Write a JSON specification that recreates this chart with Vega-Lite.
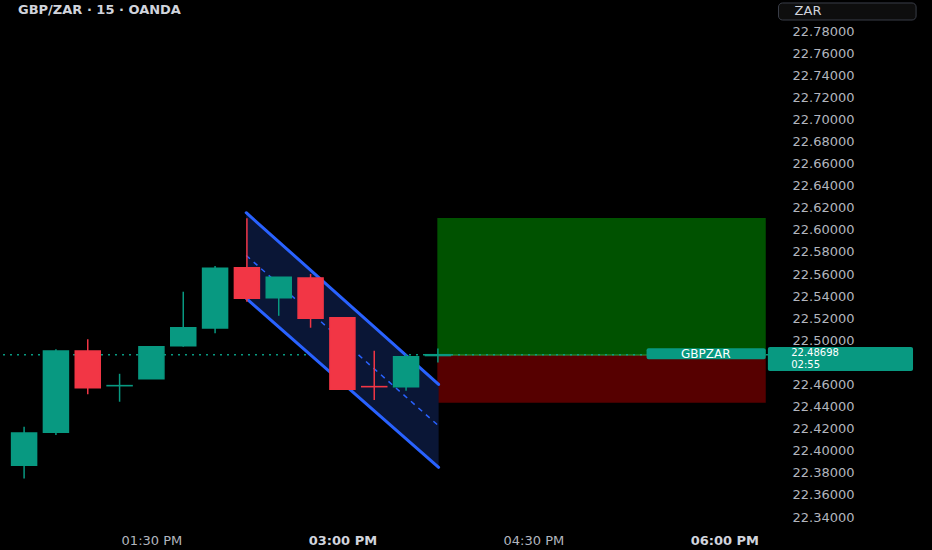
{
  "$schema": "https://vega.github.io/schema/vega-lite/v6.json",
  "description": "GBP/ZAR 15m candles with descending channel and long position box",
  "width": 775,
  "height": 525,
  "autosize": {"type": "none"},
  "padding": {"left": 0, "top": 0, "right": 157, "bottom": 25},
  "background": "#000000",
  "title": {
    "text": "GBP/ZAR · 15 · OANDA",
    "anchor": "start",
    "frame": "group",
    "offset": 0,
    "dx": 18,
    "dy": 17,
    "font": "DejaVu Sans",
    "fontSize": 13,
    "fontWeight": "bold",
    "color": "#d1d4dc"
  },
  "config": {
    "view": {"stroke": null},
    "axis": {"grid": false, "domain": false, "ticks": false, "labelOverlap": false}
  },
  "datasets": {
    "candles": [
      {"t": "2024-01-01T12:30:00", "open": 22.387, "high": 22.4217, "low": 22.375, "close": 22.416, "dir": "up"},
      {"t": "2024-01-01T12:45:00", "open": 22.4167, "high": 22.4918, "low": 22.4142, "close": 22.4903, "dir": "up"},
      {"t": "2024-01-01T13:00:00", "open": 22.4903, "high": 22.5009, "low": 22.4511, "close": 22.457, "dir": "down"},
      {"t": "2024-01-01T13:15:00", "open": 22.4589, "high": 22.4697, "low": 22.4444, "close": 22.459, "dir": "up"},
      {"t": "2024-01-01T13:30:00", "open": 22.4652, "high": 22.4945, "low": 22.465, "close": 22.4942, "dir": "up"},
      {"t": "2024-01-01T13:45:00", "open": 22.4951, "high": 22.544, "low": 22.4942, "close": 22.5114, "dir": "up"},
      {"t": "2024-01-01T14:00:00", "open": 22.5111, "high": 22.5672, "low": 22.5063, "close": 22.5652, "dir": "up"},
      {"t": "2024-01-01T14:15:00", "open": 22.5657, "high": 22.6104, "low": 22.5349, "close": 22.538, "dir": "down"},
      {"t": "2024-01-01T14:30:00", "open": 22.5385, "high": 22.5572, "low": 22.5222, "close": 22.557, "dir": "up"},
      {"t": "2024-01-01T14:45:00", "open": 22.5564, "high": 22.56, "low": 22.5114, "close": 22.5199, "dir": "down"},
      {"t": "2024-01-01T15:00:00", "open": 22.5204, "high": 22.5206, "low": 22.4554, "close": 22.4556, "dir": "down"},
      {"t": "2024-01-01T15:15:00", "open": 22.4581, "high": 22.4905, "low": 22.4459, "close": 22.458, "dir": "down"},
      {"t": "2024-01-01T15:30:00", "open": 22.458, "high": 22.4873, "low": 22.4543, "close": 22.4851, "dir": "up"},
      {"t": "2024-01-01T15:45:00", "open": 22.4862, "high": 22.4927, "low": 22.48, "close": 22.48698, "dir": "up"}
    ],
    "channel": [
      {"t": "2024-01-01T14:14:40", "upper": 22.6155, "mid": 22.5768, "lower": 22.538},
      {"t": "2024-01-01T15:45:20", "upper": 22.4601, "mid": 22.4226, "lower": 22.385}
    ],
    "position": [
      {"zone": "target", "t0": "2024-01-01T15:44:44", "t1": "2024-01-01T18:19:30", "lo": 22.4867, "hi": 22.6107},
      {"zone": "stop", "t0": "2024-01-01T15:44:44", "t1": "2024-01-01T18:19:30", "lo": 22.4435, "hi": 22.4867}
    ],
    "last": [{"price": 22.48698}],
    "tags": [
      {"tag": "symbol", "t0": "2024-01-01T17:23:20", "t1": "2024-01-01T18:19:30", "lo": 22.48276, "hi": 22.49272},
      {"tag": "price", "t0": "2024-01-01T18:20:30", "t1": "2024-01-01T19:28:54", "lo": 22.4722, "hi": 22.4939}
    ],
    "symbolText": [{"t": "2024-01-01T17:51:15", "v": 22.4877, "label": "GBPZAR"}],
    "priceText": [
      {"t": "2024-01-01T18:31:30", "v": 22.48892, "label": "22.48698"},
      {"t": "2024-01-01T18:31:30", "v": 22.47805, "label": "02:55"}
    ],
    "currency": [{"t0": "2024-01-01T18:25:30", "t1": "2024-01-01T19:30:20", "lo": 22.79, "hi": 22.8054}],
    "currencyText": [{"t": "2024-01-01T18:33:06", "v": 22.7977, "label": "ZAR"}]
  },
  "layer": [
    {
      "data": {"name": "position"},
      "transform": [{"filter": "datum.zone == 'target'"}],
      "mark": {"type": "rect", "fill": "#005200"},
      "encoding": {
        "x": {
          "field": "t0", "type": "temporal", "title": null,
          "scale": {
            "domain": [
              {"year": 2024, "month": 1, "date": 1, "hours": 12, "minutes": 21, "seconds": 0},
              {"year": 2024, "month": 1, "date": 1, "hours": 18, "minutes": 21, "seconds": 30}
            ],
            "nice": false
          },
          "axis": {
            "orient": "bottom",
            "values": [
              {"year": 2024, "month": 1, "date": 1, "hours": 13, "minutes": 30},
              {"year": 2024, "month": 1, "date": 1, "hours": 15, "minutes": 0},
              {"year": 2024, "month": 1, "date": 1, "hours": 16, "minutes": 30},
              {"year": 2024, "month": 1, "date": 1, "hours": 18, "minutes": 0}
            ],
            "format": "%I:%M %p",
            "labelFont": "DejaVu Sans",
            "labelFontSize": 13,
            "labelPadding": 9,
            "labelFontWeight": {
              "condition": {"test": "minutes(datum.value) == 0", "value": "bold"},
              "value": "normal"
            },
            "labelColor": {
              "condition": {"test": "minutes(datum.value) == 0", "value": "#d1d4dc"},
              "value": "#b2b5be"
            }
          }
        },
        "x2": {"field": "t1"},
        "y": {
          "field": "lo", "type": "quantitative", "title": null,
          "scale": {"domain": [22.3328, 22.8081], "nice": false, "zero": false},
          "axis": {
            "orient": "right",
            "values": [22.34, 22.36, 22.38, 22.4, 22.42, 22.44, 22.46, 22.5, 22.52, 22.54, 22.56, 22.58, 22.6, 22.62, 22.64, 22.66, 22.68, 22.7, 22.72, 22.74, 22.76, 22.78],
            "tickCount": 40,
            "format": ".5f",
            "labelAlign": "left",
            "labelBaseline": "middle",
            "labelPadding": 17,
            "labelFont": "DejaVu Sans",
            "labelFontSize": 13,
            "labelColor": "#b2b5be"
          }
        },
        "y2": {"field": "hi"}
      }
    },
    {
      "data": {"name": "position"},
      "transform": [{"filter": "datum.zone == 'stop'"}],
      "mark": {"type": "rect", "fill": "#560000"},
      "encoding": {
        "x": {"field": "t0", "type": "temporal", "title": null},
        "x2": {"field": "t1"},
        "y": {"field": "lo", "type": "quantitative", "title": null},
        "y2": {"field": "hi"}
      }
    },
    {
      "data": {"name": "position"},
      "transform": [{"filter": "datum.zone == 'stop'"}],
      "mark": {"type": "rule", "color": "#2f9e3a", "strokeWidth": 1},
      "encoding": {
        "x": {"field": "t0", "type": "temporal", "title": null},
        "x2": {"field": "t1"},
        "y": {"field": "hi", "type": "quantitative", "title": null}
      }
    },
    {
      "data": {"name": "last"},
      "mark": {"type": "rule", "color": "#089981", "strokeWidth": 1.5, "strokeDash": [2, 5]},
      "encoding": {
        "y": {"field": "price", "type": "quantitative", "title": null}
      }
    },
    {
      "data": {"name": "channel"},
      "mark": {"type": "area", "color": "#0a1636", "opacity": 1},
      "encoding": {
        "x": {"field": "t", "type": "temporal", "title": null},
        "y": {"field": "upper", "type": "quantitative", "title": null},
        "y2": {"field": "lower"}
      }
    },
    {
      "data": {"name": "channel"},
      "mark": {"type": "line", "color": "#2962ff", "strokeWidth": 1.5, "strokeDash": [5, 5]},
      "encoding": {
        "x": {"field": "t", "type": "temporal", "title": null},
        "y": {"field": "mid", "type": "quantitative", "title": null}
      }
    },
    {
      "data": {"name": "channel"},
      "mark": {"type": "line", "color": "#2962ff", "strokeWidth": 3, "strokeCap": "round"},
      "encoding": {
        "x": {"field": "t", "type": "temporal", "title": null},
        "y": {"field": "upper", "type": "quantitative", "title": null}
      }
    },
    {
      "data": {"name": "channel"},
      "mark": {"type": "line", "color": "#2962ff", "strokeWidth": 3, "strokeCap": "round"},
      "encoding": {
        "x": {"field": "t", "type": "temporal", "title": null},
        "y": {"field": "lower", "type": "quantitative", "title": null}
      }
    },
    {
      "data": {"name": "candles"},
      "mark": {"type": "rule", "strokeWidth": 1.5},
      "encoding": {
        "x": {"field": "t", "type": "temporal", "title": null},
        "y": {"field": "low", "type": "quantitative", "title": null},
        "y2": {"field": "high"},
        "color": {
          "field": "dir", "type": "nominal", "legend": null,
          "scale": {"domain": ["up", "down"], "range": ["#089981", "#f23645"]}
        }
      }
    },
    {
      "data": {"name": "candles"},
      "mark": {"type": "bar", "size": 25, "strokeWidth": 1.5},
      "encoding": {
        "x": {"field": "t", "type": "temporal", "title": null},
        "y": {"field": "open", "type": "quantitative", "title": null},
        "y2": {"field": "close"},
        "color": {"field": "dir", "type": "nominal", "legend": null},
        "stroke": {
          "field": "dir", "type": "nominal", "legend": null,
          "scale": {"domain": ["up", "down"], "range": ["#089981", "#f23645"]}
        }
      }
    },
    {
      "data": {"name": "tags"},
      "mark": {"type": "rect", "fill": "#089981", "cornerRadius": 2},
      "encoding": {
        "x": {"field": "t0", "type": "temporal", "title": null},
        "x2": {"field": "t1"},
        "y": {"field": "lo", "type": "quantitative", "title": null},
        "y2": {"field": "hi"}
      }
    },
    {
      "data": {"name": "symbolText"},
      "mark": {"type": "text", "color": "#ffffff", "font": "DejaVu Sans", "fontSize": 12, "align": "center", "baseline": "middle"},
      "encoding": {
        "x": {"field": "t", "type": "temporal", "title": null},
        "y": {"field": "v", "type": "quantitative", "title": null},
        "text": {"field": "label"}
      }
    },
    {
      "data": {"name": "priceText"},
      "mark": {"type": "text", "color": "#ffffff", "font": "DejaVu Sans", "fontSize": 10, "align": "left", "baseline": "middle"},
      "encoding": {
        "x": {"field": "t", "type": "temporal", "title": null},
        "y": {"field": "v", "type": "quantitative", "title": null},
        "text": {"field": "label"}
      }
    },
    {
      "data": {"name": "currency"},
      "mark": {"type": "rect", "fill": "#0e0e0e", "stroke": "#3a3e48", "strokeWidth": 1, "cornerRadius": 4},
      "encoding": {
        "x": {"field": "t0", "type": "temporal", "title": null},
        "x2": {"field": "t1"},
        "y": {"field": "lo", "type": "quantitative", "title": null},
        "y2": {"field": "hi"}
      }
    },
    {
      "data": {"name": "currencyText"},
      "mark": {"type": "text", "color": "#d1d4dc", "font": "DejaVu Sans", "fontSize": 13, "align": "left", "baseline": "middle"},
      "encoding": {
        "x": {"field": "t", "type": "temporal", "title": null},
        "y": {"field": "v", "type": "quantitative", "title": null},
        "text": {"field": "label"}
      }
    }
  ]
}
